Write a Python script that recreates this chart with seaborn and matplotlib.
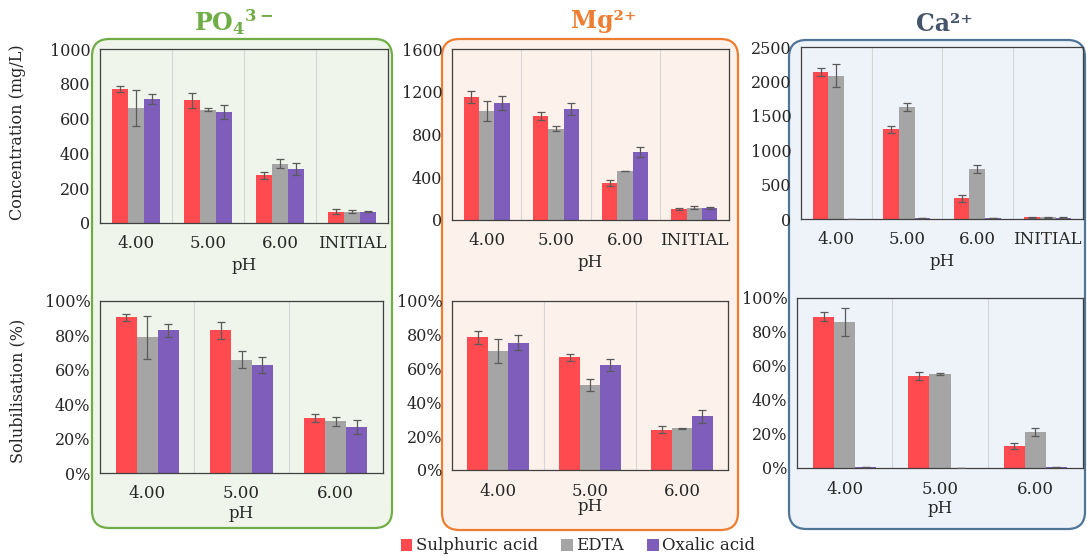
import numpy as np
import pandas as pd
import matplotlib
matplotlib.use("Agg")
import matplotlib.pyplot as plt
import seaborn as sns
from matplotlib.patches import FancyBboxPatch, Patch
from matplotlib.ticker import PercentFormatter

# ---- data -------------------------------------------------------------
acids = ["Sulphuric acid", "EDTA", "Oxalic acid"]
colors = ["#ff4b4f", "#a5a5a5", "#7e5dbb"]
ph_conc = ["4.00", "5.00", "6.00", "INITIAL"]
ph_sol = ["4.00", "5.00", "6.00"]

# concentration (mg/L), rows follow `acids`
po4_conc = [[770, 705, 274, 65], [661, 651, 341, 65], [713, 638, 312, 65]]
po4_conc_err = [[17, 43, 20, 14], [105, 8, 25, 8], [30, 43, 35, 3]]
mg_conc = [[1150, 972, 347, 103], [1022, 856, 459, 116], [1094, 1037, 637, 113]]
mg_conc_err = [[58, 34, 31, 5], [92, 27, 3, 14], [62, 58, 50, 8]]
ca_conc = [[2137, 1301, 300, 24], [2084, 1634, 725, 24], [0, 8, 8, 20]]
ca_conc_err = [[63, 50, 48, 5], [170, 58, 53, 5], [0, 0, 0, 3]]

# solubilisation (%)
po4_sol = [[90.5, 82.9, 31.8], [78.9, 65.9, 30.0], [82.9, 62.8, 26.6]]
po4_sol_err = [[2.1, 5.0, 2.4], [12.5, 5.0, 2.8], [3.7, 4.8, 4.0]]
mg_sol = [[78.5, 66.7, 23.8], [70.3, 50.2, 24.8], [75.4, 62.2, 31.7]]
mg_sol_err = [[3.9, 2.0, 2.0], [7.0, 3.7, 0.3], [4.5, 3.7, 3.6]]
ca_sol = [[89.0, 54.1, 12.9], [85.9, 55.3, 21.4], [0.3, 0.2, 0.6]]
ca_sol_err = [[2.8, 2.3, 1.9], [8.0, 0.3, 2.3], [0, 0, 0]]

# ---- style ------------------------------------------------------------
sns.set_theme(style="white")
plt.rcParams["font.family"] = ["DejaVu Serif"]
plt.rcParams["mathtext.fontset"] = "dejavuserif"

W, H = 1087, 558
fig = plt.figure(figsize=(W / 100, H / 100), dpi=100)


def frac_rect(x0, y0, x1, y1):
    return [x0 / W, 1 - y1 / H, (x1 - x0) / W, (y1 - y0) / H]


# rounded panel backgrounds
panels = [
    (92, 39, 392, 528, "#70ad47", "#eff5ea"),
    (442, 39, 738, 530, "#ed7d31", "#fcf2eb"),
    (789, 40, 1085, 529, "#4f7599", "#eef3fa"),
]
for x0, y0, x1, y1, ec, fc in panels:
    box = FancyBboxPatch((x0 / W, 1 - y1 / H), (x1 - x0) / W, (y1 - y0) / H,
                         boxstyle="round,pad=0,rounding_size=0.016",
                         transform=fig.transFigure, facecolor=fc, edgecolor=ec,
                         linewidth=1.6, zorder=-5, mutation_aspect=W / H)
    fig.patches.append(box)

titles = [
    (234, 22, r"PO$_{\mathbf{4}}$$^{\mathbf{3-}}$", "#70ad47"),
    (604, 21, "Mg²⁺", "#ed7d31"),
    (944, 24, "Ca²⁺", "#44546a"),
]
for x, y, t, c in titles:
    fig.text(x / W, 1 - y / H, t, color=c, fontsize=17, fontweight="bold",
             ha="center", va="center")


def draw(rect, cats, vals, errs, ymax, step, pct, pad):
    ax = fig.add_axes(frac_rect(*rect))
    ax.set_zorder(2)
    df = pd.DataFrame(
        [(c, a, v) for a, row in zip(acids, vals) for c, v in zip(cats, row)],
        columns=["pH", "acid", "value"])
    sns.barplot(data=df, x="pH", y="value", hue="acid", order=cats,
                hue_order=acids, palette=colors, width=0.665, errorbar=None,
                saturation=1, linewidth=0, legend=False, ax=ax)
    for cont, err in zip(ax.containers, errs):
        xs = [b.get_x() + b.get_width() / 2 for b in cont]
        hs = [b.get_height() for b in cont]
        ax.errorbar(xs, hs, yerr=err, fmt="none", ecolor="#5a5a5a",
                    elinewidth=0.9, capsize=2.6, capthick=0.9, zorder=5)
    n = len(cats)
    ax.set_xlim(-0.5, n - 0.5)
    ax.set_ylim(0, ymax)
    ax.set_yticks(np.arange(0, ymax + 1, step))
    if pct:
        ax.yaxis.set_major_formatter(PercentFormatter(100, decimals=0))
    ax.set_xticks(np.arange(-0.5, n), minor=True)
    ax.tick_params(axis="x", which="major", length=0, labelsize=12, pad=9)
    ax.tick_params(axis="x", which="minor", length=5, width=0.9,
                   color="#404040", direction="out")
    ax.tick_params(axis="y", length=4, width=0.9, color="#404040",
                   direction="out", labelsize=11.5, pad=3)
    ax.grid(which="minor", axis="x", color="#d6d6d6", linewidth=0.8)
    ax.set_axisbelow(True)
    ax.set_facecolor("none")
    for s in ax.spines.values():
        s.set_visible(True)
        s.set_color("#404040")
        s.set_linewidth(0.9)
    ax.set_xlabel("pH", fontsize=12, labelpad=pad)
    ax.set_ylabel("")
    return ax


draw((100, 49, 388, 223), ph_conc, po4_conc, po4_conc_err, 1000, 200, False, 3)
draw((452, 49, 729, 220), ph_conc, mg_conc, mg_conc_err, 1600, 400, False, 3)
draw((801, 47, 1083, 219), ph_conc, ca_conc, ca_conc_err, 2500, 500, False, 3)
draw((100, 301, 383, 473), ph_sol, po4_sol, po4_sol_err, 100, 20, True, 2)
draw((452, 301, 728, 470), ph_sol, mg_sol, mg_sol_err, 100, 20, True, -1)
draw((797, 298, 1083, 468), ph_sol, ca_sol, ca_sol_err, 100, 20, True, 2)

fig.text(18 / W, 1 - 132 / H, "Concentration (mg/L)", rotation=90,
         ha="center", va="center", fontsize=11.5)
fig.text(18 / W, 1 - 391 / H, "Solubilisation (%)", rotation=90,
         ha="center", va="center", fontsize=11.5)

handles = [Patch(facecolor=c, edgecolor="none", label=a)
           for a, c in zip(acids, colors)]
fig.legend(handles=handles, loc="center", bbox_to_anchor=(578 / W, 1 - 546 / H),
           ncol=3, frameon=False, fontsize=12, handlelength=0.7,
           handleheight=0.7, handletextpad=0.2, columnspacing=1.4)

fig.savefig("out.png", dpi=100)
